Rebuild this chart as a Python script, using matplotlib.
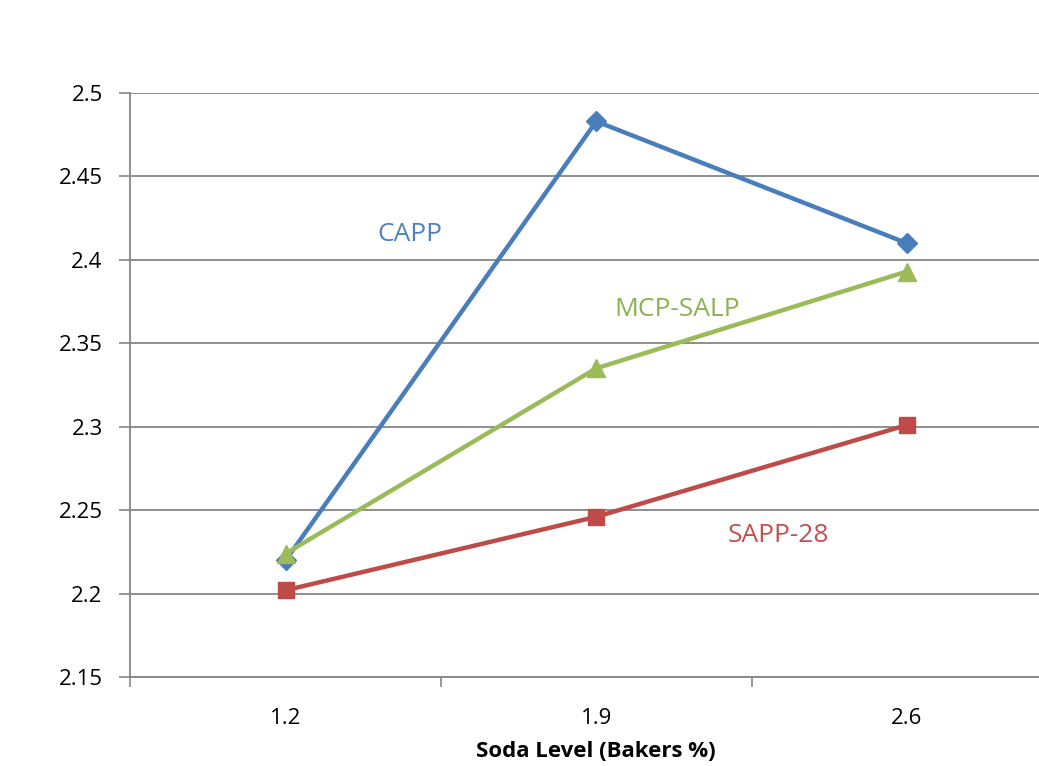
import matplotlib.pyplot as plt

# Data
soda_levels = ["1.2", "1.9", "2.6"]
capp = [2.220, 2.483, 2.410]
mcp_salp = [2.224, 2.335, 2.393]
sapp_28 = [2.202, 2.246, 2.301]
y_ticks = [2.15, 2.2, 2.25, 2.3, 2.35, 2.4, 2.45, 2.5]

plt.rcParams['font.family'] = ['Open Sans', 'DejaVu Sans']

fig = plt.figure(figsize=(10.39, 7.66), dpi=100)
ax = fig.add_axes([0.1256, 0.1162, 0.8966, 0.7624])

x = [0.5, 1.5, 2.5]
ax.plot(x, capp, color='#4A7EBB', lw=3.2, marker='D', markersize=10, zorder=4)
ax.plot(x, sapp_28, color='#BE4B48', lw=3.2, marker='s', markersize=12, zorder=3)
ax.plot(x, mcp_salp, color='#9BBB59', lw=3.2, marker='^', markersize=13, zorder=5)

# series labels inside the plot
ax.annotate("CAPP", xy=(0.90, 2.415), color='#4F81BD', fontsize=19, ha='center', va='center')
ax.annotate("MCP-SALP", xy=(1.76, 2.37), color='#8DB04E', fontsize=19, ha='center', va='center')
ax.annotate("SAPP-28", xy=(2.085, 2.235), color='#C0504D', fontsize=19, ha='center', va='center')

ax.set_xlim(0, 3)
ax.set_ylim(2.15, 2.5)
ax.set_xticks([0, 1, 2, 3])
ax.set_xticklabels([])
ax.set_xticks(x, minor=True)
ax.set_xticklabels(soda_levels, minor=True)
ax.tick_params(axis='x', which='minor', length=0, labelsize=16, pad=22)
ax.tick_params(axis='x', which='major', length=7, width=1.2, color='#868686')
ax.set_yticks(y_ticks)
ax.set_yticklabels([f"{v:g}" for v in y_ticks])
ax.tick_params(axis='y', length=8, width=1.2, color='#868686', labelsize=16, pad=12)

ax.grid(axis='y', color='#868686', lw=1.3)
ax.set_axisbelow(True)
for side in ['top', 'right']:
    ax.spines[side].set_visible(False)
for side in ['left', 'bottom']:
    ax.spines[side].set_color('#868686')
    ax.spines[side].set_linewidth(1.3)

ax.set_xlabel("Soda Level (Bakers %)", fontsize=16, fontweight='bold', labelpad=9)

fig.savefig("out.png", dpi=100)
